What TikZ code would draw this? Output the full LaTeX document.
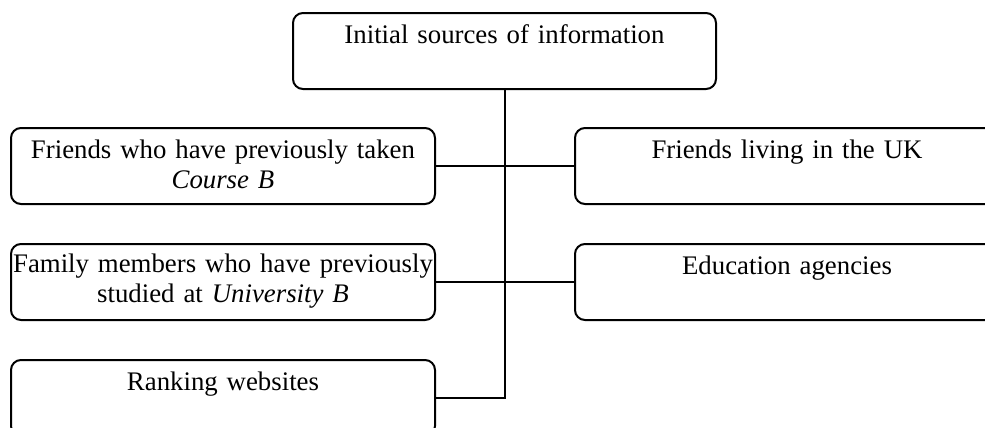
\documentclass[tikz,border=0pt]{standalone}
\usepackage{fontspec}
\setmainfont{Liberation Serif}
\usetikzlibrary{positioning}
\tikzset{
  topbox/.style={
    draw, rectangle, rounded corners=5pt, line width=1pt, align=center,
    inner xsep=1pt, inner ysep=0pt, text width=209.5pt,
    text height=15pt, text depth=23pt, font=\fontsize{13.4}{15}\selectfont
  },
  srcbox/.style={
    draw, rectangle, rounded corners=5pt, line width=1pt, align=center,
    inner xsep=1pt, inner ysep=0pt, text width=210pt,
    text height=15pt, text depth=23pt, font=\fontsize{13.4}{15}\selectfont
  },
  link/.style={line width=1pt},
}
\begin{document}
\begin{tikzpicture}[node distance=19pt]
  \useasboundingbox (0,0) rectangle (492.5pt,-214pt);

  \node[topbox, anchor=north] (init) at (252.25pt,-6pt)
    {Initial sources of information};

  \node[srcbox, anchor=north west] (frcourse) at (5pt,-63.5pt)
    {Friends who have previously taken\\\textit{Course B}};
  \node[srcbox, below=of frcourse, text height=14pt, text depth=24pt] (family)
    {Family members who have previously\\studied at \textit{University B}};
  \node[srcbox, below=of family] (rank) {Ranking websites};

  \node[srcbox, right=69pt of frcourse] (fruk) {Friends living in the UK};
  \node[srcbox, right=69pt of family] (agency) {Education agencies};

  \draw[link] (init) |- (rank);
  \draw[link] (frcourse) -- (fruk);
  \draw[link] (family) -- (agency);
\end{tikzpicture}
\end{document}
